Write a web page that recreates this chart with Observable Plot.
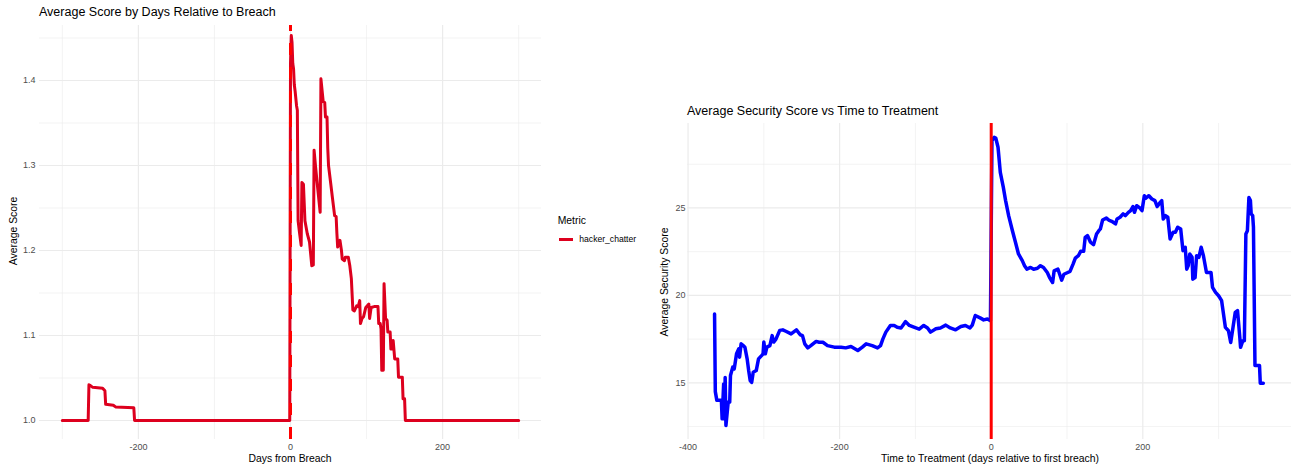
<!DOCTYPE html>
<html>
<head>
<meta charset="utf-8">
<script src="https://cdn.jsdelivr.net/npm/d3@7"></script>
<script src="https://cdn.jsdelivr.net/npm/@observablehq/plot@0.6"></script>
<style>
  body { margin: 0; background: #fff; font-family: "Liberation Sans", Arial, sans-serif; }
  #wrap { position: relative; width: 1291px; height: 466px; overflow: hidden; background: #fff; }
  .t { position: absolute; white-space: nowrap; line-height: 1; color: #000; }
  #wrap svg { position: absolute; top: 0; }
</style>
</head>
<body>
<div id="wrap">
  <div class="t" id="lt" style="left:39px; top:6px; font-size:12.5px;">Average Score by Days Relative to Breach</div>
  <div class="t" id="rt" style="left:687px; top:104.5px; font-size:12.5px;">Average Security Score vs Time to Treatment</div>
  <div class="t" style="left:290px; top:453.5px; font-size:10.4px; transform:translateX(-50%);">Days from Breach</div>
  <div class="t" style="left:990px; top:454px; font-size:10.4px; transform:translateX(-50%);">Time to Treatment (days relative to first breach)</div>
  <div class="t" style="left:14px; top:231px; font-size:10.4px; transform:translate(-50%,-50%) rotate(-90deg);">Average Score</div>
  <div class="t" style="left:665px; top:281.5px; font-size:10.4px; transform:translate(-50%,-50%) rotate(-90deg);">Average Security Score</div>
  <div class="t" style="left:557.7px; top:215.8px; font-size:10.4px;">Metric</div>
  <div id="swatch" style="position:absolute; left:559.3px; top:238px; width:13.4px; height:3px;"></div>
  <div class="t" id="legtxt" style="left:579.3px; top:235.2px; font-size:8.6px;"></div>
</div>
<script>
// ---------- Left chart data: hacker_chatter average score by day relative to breach ----------
const chatterMetric = "hacker_chatter";
const chatterDays = [
  -300, -266, -265, -263, -260, -247, -244, -243, -233, -230, -206, -205, -1,
  0, 1, 2, 3, 4, 5, 6, 8, 9, 10, 12, 14, 15, 17, 19, 22, 25, 28, 30, 31, 33, 35, 39,
  40, 43, 45, 46, 48, 49, 50, 53, 55, 58, 60, 61, 62, 65, 67, 68, 71, 72, 76, 78, 80,
  82, 84, 87, 89, 91, 92, 94, 96, 99, 101, 103, 104, 106, 110, 115, 116, 118, 119, 120,
  122, 123, 125, 127, 128, 131, 132, 134, 135, 137, 141, 142, 147, 148, 150, 151, 300
];
const chatterValues = [
  1.0, 1.0, 1.042, 1.041, 1.039, 1.038, 1.035, 1.019, 1.018, 1.016, 1.015, 1.0, 1.0,
  1.42, 1.453, 1.445, 1.42, 1.414, 1.395, 1.388, 1.37, 1.365, 1.235, 1.22, 1.206, 1.28, 1.278, 1.235, 1.22, 1.21, 1.182, 1.183, 1.318, 1.298, 1.28, 1.245,
  1.402, 1.375, 1.374, 1.357, 1.357, 1.32, 1.30, 1.278, 1.263, 1.241, 1.24, 1.22, 1.204, 1.212, 1.2, 1.19, 1.188, 1.192, 1.192, 1.182, 1.167,
  1.13, 1.129, 1.135, 1.134, 1.141, 1.114, 1.12, 1.122, 1.133, 1.135, 1.137, 1.12, 1.133, 1.134, 1.134, 1.114, 1.114, 1.108, 1.059,
  1.059, 1.161, 1.12, 1.118, 1.104, 1.104, 1.084, 1.084, 1.094, 1.0725, 1.0725, 1.051, 1.051, 1.0255, 1.0255, 1.0, 1.0
];
const leftXTicks = [-200, 0, 200];
const leftXMinor = [-300, -100, 100, 300];
const leftYTicks = [1.0, 1.1, 1.2, 1.3, 1.4];
const leftYMinor = [1.05, 1.15, 1.25, 1.35, 1.45];

// ---------- Right chart data: average security score vs time to treatment ----------
const secDays = [
  -365, -364, -362, -356, -355, -353, -352, -351, -350, -347, -345, -344, -341, -339, -336, -333, -332, -330, -327, -325,
  -322, -320, -318, -316, -314, -310, -307, -303, -301, -300, -298, -296, -292, -289, -287, -284, -279, -275, -271, -264,
  -257, -252, -249, -246, -242, -238, -231, -227, -222, -216, -207, -198, -192, -185, -176, -170, -165, -157, -150, -146,
  -143, -139, -133, -128, -124, -119, -113, -108, -102, -95, -89, -84, -80, -73, -67, -60, -54, -47, -40, -34,
  -28, -25, -21, -14, -10, -5, -1,
  1, 4, 6, 9, 12, 16, 19, 23, 28, 32, 36, 41, 44, 47, 52, 56, 61, 65, 69, 74,
  77, 81, 83, 88, 90, 93, 96, 101, 104, 108, 111, 115, 118, 122, 124, 127, 131, 135, 139, 142,
  144, 147, 152, 155, 159, 164, 166, 170, 174, 177, 181, 184, 187, 189, 192, 196, 199, 202, 204, 208,
  212, 216, 219, 223, 225, 227, 230, 233, 236, 240, 243, 246, 250, 253, 256, 258, 260, 262, 265, 266,
  269, 271, 274, 277, 280, 284, 290, 292, 296, 300, 304, 309, 313, 316, 319, 322, 325, 328, 329, 332,
  334, 336, 338, 340, 342, 343, 345, 346, 348, 354, 355, 359
];
const secValues = [
  18.94, 14.5, 14.0, 14.0, 12.94, 14.94, 12.94, 15.3, 12.56, 13.9, 13.9, 15.42, 15.9, 15.8, 16.66, 16.95, 16.47, 17.23, 17.13, 17.04,
  16.37, 15.7, 15.13, 15.03, 15.6, 15.7, 16.37, 16.56, 16.66, 17.33, 16.66, 17.04, 17.13, 17.7, 17.33, 17.5, 18.0, 18.03, 17.95, 17.8,
  18.03, 17.75, 17.7, 17.23, 17.0, 17.13, 17.37, 17.32, 17.32, 17.13, 17.04, 17.04, 17.0, 17.08, 16.85, 17.04, 17.23, 17.13, 17.0, 17.13,
  17.5, 17.9, 18.28, 18.28, 18.18, 18.14, 18.5, 18.28, 18.18, 18.07, 18.28, 18.14, 17.9, 18.09, 18.14, 18.3, 18.14, 18.03, 18.22, 18.28,
  18.14, 18.3, 18.85, 18.7, 18.6, 18.65, 18.56,
  28.85, 29.04, 29.0, 28.47, 27.04, 26.18, 25.42, 24.56, 23.7, 23.04, 22.37, 21.99, 21.7, 21.5, 21.6, 21.5, 21.55, 21.7, 21.6, 21.31,
  21.02, 20.74, 21.4, 21.5, 21.25, 20.87, 21.21, 21.31, 21.37, 21.79, 22.13, 22.27, 22.52, 22.52, 23.32, 23.42, 23.04, 22.9, 23.51, 23.7,
  23.8, 24.31, 24.43, 24.31, 24.24, 24.09, 24.37, 24.47, 24.66, 24.56, 24.75, 24.85, 25.08, 24.75, 25.13, 25.0, 24.85, 25.7, 25.56, 25.7,
  25.51, 25.42, 25.08, 25.32, 25.42, 24.37, 24.56, 24.47, 23.23, 23.61, 23.61, 23.9, 23.8, 22.56, 22.75, 21.5, 21.7, 22.37, 22.18, 20.93,
  21.02, 22.27, 22.18, 22.75, 22.27, 21.31, 21.31, 20.46, 20.17, 19.98, 19.7, 18.17, 17.98, 17.31, 18.17, 19.03, 19.13, 17.6, 17.03, 17.41,
  17.41, 23.51, 23.7, 25.6, 25.42, 24.66, 24.56, 23.9, 15.99, 15.99, 14.98, 14.98
];
const rightXTicks = [-400, -200, 0, 200];
const rightXMinor = [-300, -100, 100, 300];
const rightYTicks = [15, 20, 25];
const rightYMinor = [12.5, 17.5, 22.5, 27.5];

const chatterColor = "#dd001e";
const gridColor = "#ebebeb";

const chatter = chatterDays.map((d, i) => ({day: d, value: chatterValues[i], metric: chatterMetric}));
const security = secDays.map((d, i) => ({day: d, value: secValues[i]}));

const baseStyle = {fontFamily: "'Liberation Sans', Arial, sans-serif", fontSize: "9px", color: "#4d4d4d", background: "transparent", overflow: "visible"};
const fmt = d => String(d);

const left = Plot.plot({
  width: 545, height: 466,
  marginLeft: 39, marginRight: 4, marginTop: 25, marginBottom: 27,
  style: baseStyle,
  x: {domain: [-330, 330]},
  y: {domain: [0.97765, 1.46471]},
  marks: [
    Plot.gridX(leftXMinor, {stroke: gridColor, strokeOpacity: 1, strokeWidth: 0.6}),
    Plot.gridY(leftYMinor, {stroke: gridColor, strokeOpacity: 1, strokeWidth: 0.6}),
    Plot.gridX(leftXTicks, {stroke: gridColor, strokeOpacity: 1, strokeWidth: 1.2}),
    Plot.gridY(leftYTicks, {stroke: gridColor, strokeOpacity: 1, strokeWidth: 1.2}),
    Plot.axisX(leftXTicks, {tickSize: 0, tickPadding: 4, label: null, tickFormat: fmt}),
    Plot.axisY(leftYTicks, {tickSize: 0, tickPadding: 4, label: null, tickFormat: d3.format(".1f")}),
    Plot.line(chatter, {x: "day", y: "value", stroke: chatterColor, strokeWidth: 3}),
    Plot.ruleX([0], {stroke: "#ff0000", strokeWidth: 3, strokeDasharray: "12,12", strokeDashoffset: 6})
  ]
});
left.style.left = "0px";

const right = Plot.plot({
  width: 651, height: 466,
  marginLeft: 47, marginRight: 0, marginTop: 123, marginBottom: 27,
  style: baseStyle,
  x: {domain: [-400.7, 396.2]},
  y: {domain: [11.76, 29.83]},
  marks: [
    Plot.gridX(rightXMinor, {stroke: gridColor, strokeOpacity: 1, strokeWidth: 0.6}),
    Plot.gridY(rightYMinor, {stroke: gridColor, strokeOpacity: 1, strokeWidth: 0.6}),
    Plot.gridX(rightXTicks, {stroke: gridColor, strokeOpacity: 1, strokeWidth: 1.2}),
    Plot.gridY(rightYTicks, {stroke: gridColor, strokeOpacity: 1, strokeWidth: 1.2}),
    Plot.axisX(rightXTicks, {tickSize: 0, tickPadding: 4, label: null, tickFormat: fmt}),
    Plot.axisY(rightYTicks, {tickSize: 0, tickPadding: 2, label: null, tickFormat: fmt}),
    Plot.line(security, {x: "day", y: "value", stroke: "#0000ff", strokeWidth: 3.5}),
    Plot.ruleX([0], {stroke: "#ff0000", strokeWidth: 3})
  ]
});
right.style.left = "640px";

const wrap = document.getElementById("wrap");
wrap.insertBefore(right, wrap.firstChild);
wrap.insertBefore(left, wrap.firstChild);
document.getElementById("swatch").style.background = chatterColor;
document.getElementById("legtxt").textContent = chatterMetric;
</script>
</body>
</html>
